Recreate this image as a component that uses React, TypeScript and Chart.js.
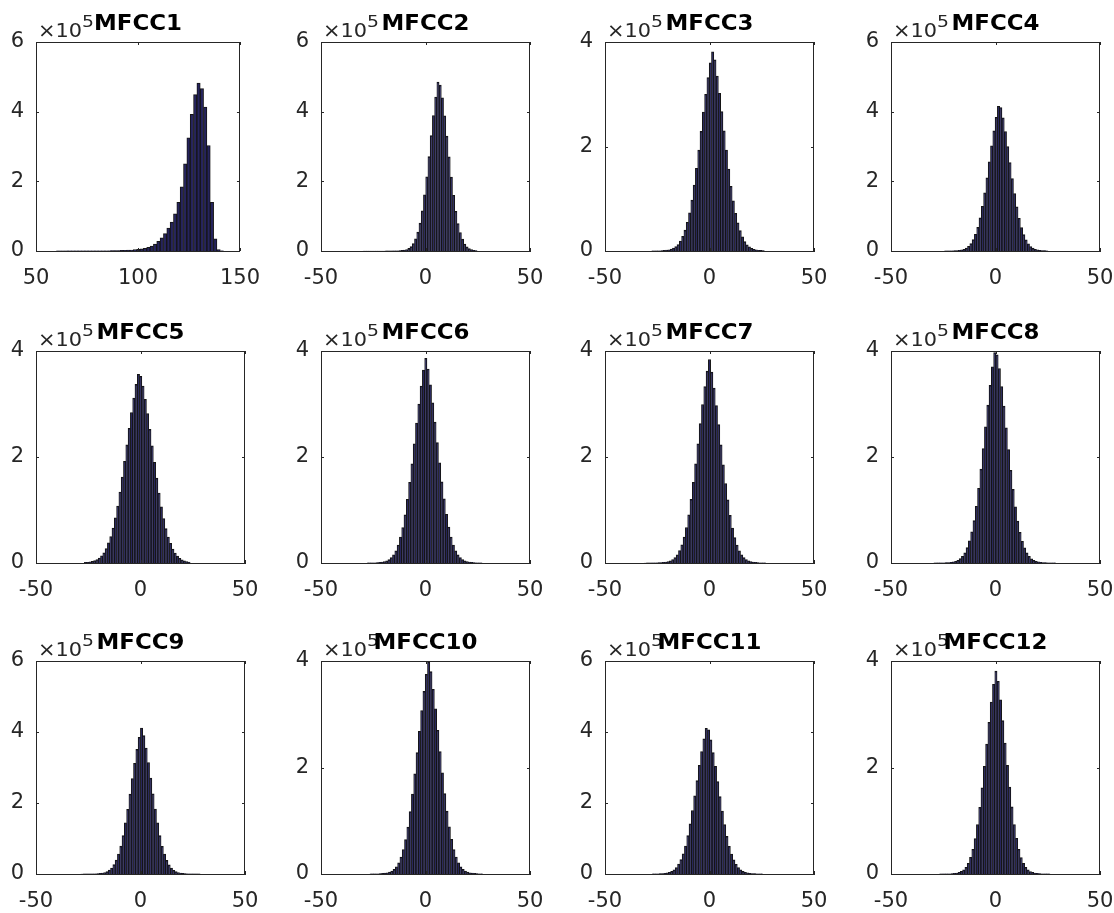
import React, { useEffect, useRef } from "react";
import { Chart, registerables } from "chart.js";

Chart.register(...registerables);
Chart.defaults.font.family = '"DejaVu Sans", "Liberation Sans", sans-serif';

// ---------- data ----------
const titles = ["MFCC1", "MFCC2", "MFCC3", "MFCC4", "MFCC5", "MFCC6", "MFCC7", "MFCC8", "MFCC9", "MFCC10", "MFCC11", "MFCC12"];
const xMins = [50, -50, -50, -50, -50, -50, -50, -50, -50, -50, -50, -50];
const xMaxs = [150, 50, 50, 50, 50, 50, 50, 50, 50, 50, 50, 50];
const yMaxs = [6, 6, 4, 6, 4, 4, 4, 4, 6, 4, 6, 4];
const xTickStep = 50;
const yTickStep = 2;
const exponentLabel = "×10";
const exponentPower = "5";

// histogram bins: left edge of first bin and bin width; counts in units of 10^5
const binStarts = [60, -29.88, -27.65, -24.4, -26.85, -27.9, -31.35, -29.5, -28.65, -26.55, -27.4, -26.75];
const binWidths = [1.64, 1.07, 1.1, 1.1, 1.1, 1.1, 1.1, 1.1, 1.1, 1.1, 1.1, 1.1];

const mfcc1 = [0.002, 0.002, 0.002, 0.003, 0.003, 0.003, 0.003, 0.004, 0.004, 0.004,
  0.005, 0.005, 0.006, 0.006, 0.007, 0.008, 0.009, 0.011, 0.013, 0.016,
  0.02, 0.025, 0.03, 0.038, 0.048, 0.062, 0.08, 0.105, 0.14, 0.2,
  0.28, 0.38, 0.5, 0.66, 0.83, 1.07, 1.4, 1.84, 2.5, 3.25,
  3.92, 4.49, 4.82, 4.66, 4.13, 3.03, 1.4, 0.35, 0.04, 0.005];
const mfcc2 = [0.0002, 0.0003, 0.0003, 0.0004, 0.0004, 0.0005, 0.0006, 0.0007, 0.0008, 0.001,
  0.0013, 0.0018, 0.0023, 0.003, 0.0043, 0.006, 0.01, 0.016, 0.026, 0.044,
  0.075, 0.125, 0.21, 0.35, 0.54, 0.8, 1.15, 1.61, 2.13, 2.71, 3.31, 3.89, 4.42, 4.85,
  4.76, 4.4, 3.88, 3.3, 2.7, 2.12, 1.6, 1.14, 0.79, 0.53, 0.34, 0.2, 0.12, 0.07, 0.04, 0.022, 0.012];
const mfcc3 = [0.0019, 0.0027, 0.0038, 0.005, 0.0076, 0.011, 0.016, 0.024, 0.035, 0.054,
  0.084, 0.125, 0.19, 0.28, 0.4, 0.55, 0.73, 0.975, 1.26, 1.58, 1.93, 2.29, 2.66, 3.0, 3.32, 3.6,
  3.81,
  3.66, 3.35, 3.02, 2.67, 2.3, 1.93, 1.57, 1.24, 0.96, 0.72, 0.54, 0.39, 0.27, 0.18, 0.12, 0.08,
  0.052, 0.034, 0.023, 0.015, 0.0105, 0.0072];
const mfcc4 = [0.0021, 0.003, 0.0039, 0.0056, 0.009, 0.0137, 0.021, 0.032, 0.05, 0.083,
  0.133, 0.21, 0.325, 0.48, 0.68, 0.95, 1.28, 1.67, 2.1, 2.56, 3.02, 3.45, 3.84, 4.15,
  4.12, 3.82, 3.43, 3.0, 2.54, 2.08, 1.65, 1.27, 0.94, 0.67, 0.47, 0.32, 0.205, 0.13, 0.081,
  0.049, 0.031, 0.02, 0.013, 0.0088, 0.0055];
const mfcc5 = [0.011, 0.015, 0.021, 0.03, 0.046, 0.066, 0.095, 0.135, 0.193, 0.273,
  0.38, 0.5, 0.66, 0.85, 1.075, 1.34, 1.62, 1.92, 2.23, 2.54, 2.84, 3.11, 3.37, 3.56,
  3.52, 3.34, 3.09, 2.82, 2.52, 2.21, 1.9, 1.6, 1.32, 1.06, 0.84, 0.65, 0.49, 0.37, 0.265,
  0.188, 0.13, 0.09, 0.062, 0.043, 0.028, 0.019];
const mfcc6 = [0.0021, 0.0027, 0.0039, 0.0054, 0.0081, 0.0127, 0.019, 0.027, 0.041, 0.064,
  0.1, 0.152, 0.23, 0.34, 0.49, 0.67, 0.91, 1.2, 1.52, 1.87, 2.25, 2.64, 3.0, 3.34, 3.64,
  3.86,
  3.66, 3.36, 3.02, 2.66, 2.27, 1.89, 1.53, 1.21, 0.92, 0.68, 0.49, 0.34, 0.23, 0.152, 0.1,
  0.064, 0.041, 0.027, 0.019, 0.0127, 0.0081, 0.0054, 0.0039, 0.0027];
const mfcc7 = [0.0008, 0.001, 0.0014, 0.002, 0.0028, 0.004, 0.0056, 0.0085, 0.013, 0.019,
  0.028, 0.042, 0.066, 0.103, 0.156, 0.235, 0.345, 0.49, 0.67, 0.91, 1.2, 1.52, 1.87, 2.25,
  2.63, 2.99, 3.33, 3.62,
  3.84,
  3.6, 3.3, 2.97, 2.61, 2.23, 1.85, 1.5, 1.19, 0.9, 0.66, 0.48, 0.34, 0.23, 0.153, 0.1,
  0.065, 0.041, 0.027, 0.018, 0.0125, 0.0082, 0.0055, 0.0038, 0.0027];
const mfcc8 = [0.0016, 0.002, 0.0024, 0.0033, 0.0045, 0.0065, 0.0098, 0.0147, 0.022, 0.033,
  0.052, 0.082, 0.127, 0.192, 0.29, 0.42, 0.59, 0.8, 1.07, 1.41, 1.77, 2.16, 2.57, 2.98,
  3.35, 3.7, 3.97,
  3.93, 3.67, 3.33, 2.96, 2.55, 2.14, 1.75, 1.39, 1.06, 0.79, 0.58, 0.41, 0.285, 0.19, 0.125,
  0.08, 0.051, 0.032, 0.021, 0.0143, 0.0095, 0.0063, 0.0044, 0.0032, 0.0024, 0.0018];
const mfcc9 = [0.0012, 0.0016, 0.0021, 0.0025, 0.0037, 0.0049, 0.0074, 0.0111, 0.0169, 0.026,
  0.041, 0.067, 0.107, 0.169, 0.263, 0.39, 0.563, 0.785, 1.08, 1.44, 1.82, 2.25, 2.69, 3.12,
  3.51, 3.85,
  4.11,
  3.9, 3.55, 3.14, 2.7, 2.26, 1.83, 1.44, 1.08, 0.78, 0.56, 0.385, 0.26, 0.167, 0.105, 0.066,
  0.04, 0.025, 0.0165, 0.011, 0.0073, 0.0048, 0.0036, 0.0025, 0.002, 0.0015];
const mfcc10 = [0.002, 0.0024, 0.0036, 0.0048, 0.0068, 0.0103, 0.0155, 0.023, 0.036, 0.057,
  0.088, 0.135, 0.21, 0.32, 0.46, 0.645, 0.88, 1.17, 1.5, 1.88, 2.28, 2.68, 3.07, 3.43, 3.75,
  3.98,
  3.8, 3.47, 3.1, 2.7, 2.3, 1.9, 1.51, 1.18, 0.885, 0.65, 0.46, 0.32, 0.21, 0.135, 0.088,
  0.057, 0.036, 0.023, 0.0155, 0.0103, 0.0068, 0.0048, 0.0036];
const mfcc11 = [0.003, 0.0042, 0.0059, 0.0089, 0.0139, 0.0207, 0.03, 0.048, 0.075, 0.118,
  0.18, 0.28, 0.405, 0.57, 0.79, 1.08, 1.41, 1.79, 2.2, 2.63, 3.06, 3.45, 3.81, 4.1,
  4.06, 3.78, 3.42, 3.03, 2.6, 2.18, 1.77, 1.39, 1.06, 0.78, 0.56, 0.4, 0.275, 0.178, 0.116,
  0.074, 0.047, 0.03, 0.02, 0.0135, 0.0087, 0.0058, 0.0041, 0.003];
const mfcc12 = [0.0015, 0.0019, 0.0027, 0.0034, 0.005, 0.008, 0.0126, 0.0194, 0.03, 0.048,
  0.078, 0.126, 0.202, 0.312, 0.465, 0.667, 0.926, 1.25, 1.62, 2.02, 2.44, 2.85, 3.23, 3.56,
  3.81,
  3.62, 3.27, 2.88, 2.46, 2.04, 1.63, 1.26, 0.93, 0.67, 0.465, 0.31, 0.2, 0.125, 0.077, 0.047,
  0.03, 0.019, 0.0124, 0.0079, 0.005, 0.0034, 0.0026, 0.0019];

const counts = [mfcc1, mfcc2, mfcc3, mfcc4, mfcc5, mfcc6, mfcc7, mfcc8, mfcc9, mfcc10, mfcc11, mfcc12];

// ---------- layout & style ----------
const COL_LEFT = [36, 321, 605, 891];
const COL_W = 209;
const ROW_TOP = [42, 351, 661];
const ROW_H = [209, 212, 213];
const PAD_L = 55, PAD_T = 45, PAD_R = 30, PAD_B = 50;
const AXIS_COLOR = "#262626";
const BAR_FILL = "#25235e";
const BAR_EDGE = "#151515";
const TICK_LEN = 3;
const TICK_FONT = { family: '"DejaVu Sans"', size: 21 };
const TITLE_FONT = 'bold 21px "DejaVu Sans"';
const TITLE_REF_WIDTH = 88; // rendered width of "MFCC1"
const EXP_FONT = '19px "DejaVu Sans"';
const EXP_REF_WIDTH = 44;
const POW_FONT = '15px "DejaVu Sans"';

function drawStretched(ctx: CanvasRenderingContext2D, text: string, x: number, y: number, sx: number, align: "left" | "center") {
  const w = ctx.measureText(text).width * sx;
  const x0 = align === "center" ? x - w / 2 : x;
  ctx.save();
  ctx.translate(x0, y);
  ctx.scale(sx, 1);
  ctx.textAlign = "left";
  ctx.fillText(text, 0, 0);
  ctx.restore();
  return w;
}

function makeFramePlugin(idx: number) {
  return {
    id: "frame" + idx,
    afterDraw(chart: any) {
      const { ctx, chartArea: a, scales } = chart;
      ctx.save();
      ctx.strokeStyle = AXIS_COLOR;
      ctx.lineWidth = 1;
      ctx.beginPath();
      const top = Math.round(a.top) + 0.5;
      const right = Math.round(a.right) - 0.5;
      ctx.moveTo(a.left, top);
      ctx.lineTo(a.right, top);
      ctx.moveTo(right, a.top);
      ctx.lineTo(right, a.bottom);
      scales.x.ticks.forEach((t: any) => {
        const px = Math.round(scales.x.getPixelForValue(t.value)) + 0.5;
        ctx.moveTo(px, a.bottom);
        ctx.lineTo(px, a.bottom - TICK_LEN);
        ctx.moveTo(px, a.top);
        ctx.lineTo(px, a.top + TICK_LEN);
      });
      scales.y.ticks.forEach((t: any) => {
        const py = Math.round(scales.y.getPixelForValue(t.value)) + 0.5;
        ctx.moveTo(a.left, py);
        ctx.lineTo(a.left + TICK_LEN, py);
        ctx.moveTo(a.right, py);
        ctx.lineTo(a.right - TICK_LEN, py);
      });
      ctx.stroke();

      ctx.textBaseline = "alphabetic";
      // exponent label  ×10^5
      ctx.fillStyle = AXIS_COLOR;
      ctx.font = EXP_FONT;
      const expSx = EXP_REF_WIDTH / ctx.measureText(exponentLabel).width;
      const ew = drawStretched(ctx, exponentLabel, a.left + 2, a.top - 5, expSx, "left");
      ctx.font = POW_FONT;
      drawStretched(ctx, exponentPower, a.left + 2 + ew, a.top - 15.5, 1.25, "left");

      // title
      ctx.fillStyle = "#000";
      ctx.font = TITLE_FONT;
      const titleSx = TITLE_REF_WIDTH / ctx.measureText(titles[0]).width;
      drawStretched(ctx, titles[idx], (a.left + a.right) / 2, a.top - 11.8, titleSx, "center");
      ctx.restore();
    },
  };
}

function Panel({ idx }: { idx: number }) {
  const ref = useRef<HTMLCanvasElement>(null);
  const col = idx % 4;
  const row = Math.floor(idx / 4);
  const w = COL_W;
  const h = ROW_H[row];
  const cw = w + PAD_L + PAD_R;
  const ch = h + PAD_T + PAD_B;

  useEffect(() => {
    const data = counts[idx].map((v, k) => ({ x: binStarts[idx] + (k + 0.5) * binWidths[idx], y: v }));
    const chart = new Chart(ref.current as HTMLCanvasElement, {
      type: "bar",
      data: {
        datasets: [
          {
            data: data as any,
            backgroundColor: BAR_FILL,
            borderColor: BAR_EDGE,
            borderWidth: 1,
            borderSkipped: "start",
            barPercentage: 1,
            categoryPercentage: 1,
          },
        ],
      },
      options: {
        animation: false,
        responsive: false,
        devicePixelRatio: 1,
        layout: { padding: { left: 0, top: PAD_T, right: PAD_R, bottom: 0 } },
        plugins: { legend: { display: false }, tooltip: { enabled: false }, title: { display: false } },
        scales: {
          x: {
            type: "linear",
            min: xMins[idx],
            max: xMaxs[idx],
            offset: false,
            grid: { display: false, drawTicks: false, offset: false },
            border: { display: true, color: AXIS_COLOR, width: 1 },
            ticks: { stepSize: xTickStep, autoSkip: false, maxRotation: 0, padding: 15, font: TICK_FONT, color: AXIS_COLOR },
            afterFit: (s: any) => { s.height = PAD_B; },
          },
          y: {
            type: "linear",
            min: 0,
            max: yMaxs[idx],
            grid: { display: false, drawTicks: false },
            border: { display: true, color: AXIS_COLOR, width: 1 },
            ticks: { stepSize: yTickStep, padding: 12, font: TICK_FONT, color: AXIS_COLOR },
            afterFit: (s: any) => { s.width = PAD_L; },
          },
        },
      } as any,
      plugins: [makeFramePlugin(idx)],
    });
    return () => chart.destroy();
  }, [idx]);

  return (
    <canvas
      ref={ref}
      width={cw}
      height={ch}
      style={{ position: "absolute", left: COL_LEFT[col] - PAD_L, top: ROW_TOP[row] - PAD_T, width: cw, height: ch }}
    />
  );
}

export default function App() {
  return (
    <div style={{ position: "absolute", left: 0, top: 0, width: 1114, height: 913, background: "#fff", overflow: "hidden" }}>
      {titles.map((_, i) => (
        <Panel key={i} idx={i} />
      ))}
    </div>
  );
}
